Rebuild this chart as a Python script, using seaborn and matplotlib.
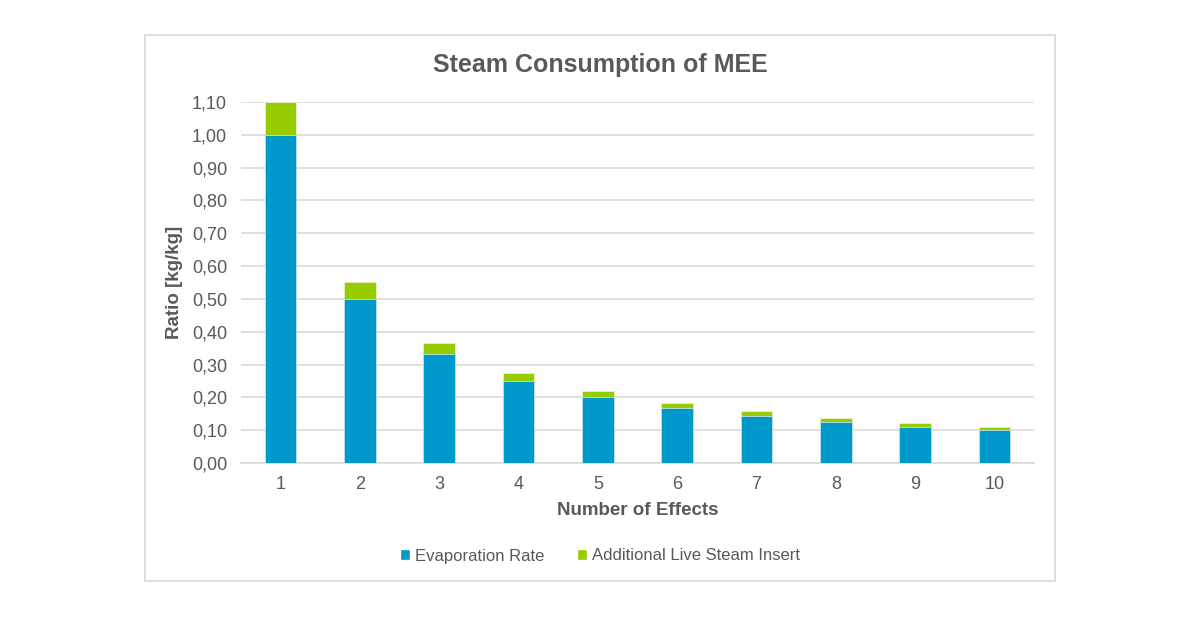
import numpy as np
import pandas as pd
import matplotlib
matplotlib.use("Agg")
import matplotlib.pyplot as plt
from matplotlib.patches import Patch, Rectangle
from matplotlib.ticker import FuncFormatter
import seaborn as sns

effects = ["1", "2", "3", "4", "5", "6", "7", "8", "9", "10"]
evaporation = [1.00, 0.50, 0.333, 0.25, 0.20, 0.167, 0.143, 0.125, 0.111, 0.10]
additional = [0.10, 0.05, 0.033, 0.025, 0.02, 0.017, 0.014, 0.0125, 0.011, 0.01]
y_ticks = [0.0, 0.1, 0.2, 0.3, 0.4, 0.5, 0.6, 0.7, 0.8, 0.9, 1.0, 1.1]

blue = "#0099CC"
green = "#99CC00"
txt = "#595959"
grid = "#D9D9D9"

sns.set_style("white")
plt.rcParams["font.family"] = ["Liberation Sans", "DejaVu Sans"]

df = pd.DataFrame({"effects": effects, "evap": evaporation, "extra": additional})
df["total"] = df["evap"] + df["extra"]

fig = plt.figure(figsize=(12, 6.18), dpi=100)
ax = fig.add_axes([0.2008, 0.2508, 0.6609, 0.5842])

# outer chart frame
fig.patches.append(Rectangle((145 / 1200, 1 - 581 / 618), 910 / 1200, 546 / 618,
                             transform=fig.transFigure, fill=False,
                             edgecolor=grid, linewidth=1.2, zorder=0))

sns.barplot(data=df, x="effects", y="total", color=green, width=0.4,
            saturation=1, ax=ax, edgecolor="#E6F2C8", linewidth=0.6, zorder=3)
sns.barplot(data=df, x="effects", y="evap", color=blue, width=0.4,
            saturation=1, ax=ax, edgecolor="#BFE3F0", linewidth=0.6, zorder=4)

ax.set_ylim(0, 1.1)
ax.set_yticks(y_ticks)
ax.yaxis.set_major_formatter(FuncFormatter(lambda v, p: f"{v:.2f}".replace(".", ",")))
ax.grid(axis="y", color=grid, linewidth=1.2, zorder=0)
ax.set_axisbelow(True)
for s in ["top", "right", "left"]:
    ax.spines[s].set_visible(False)
ax.spines["bottom"].set_color(grid)
ax.spines["bottom"].set_linewidth(1.2)
ax.tick_params(axis="both", length=0, labelsize=13, labelcolor=txt)
ax.tick_params(axis="x", pad=9)
ax.tick_params(axis="y", pad=10)

ax.set_xlabel("Number of Effects", fontsize=13.5, fontweight="bold", color=txt, labelpad=7)
ax.set_ylabel("Ratio [kg/kg]", fontsize=13.5, fontweight="bold", color=txt, labelpad=6)

fig.text(0.5, 1 - 65 / 618, "Steam Consumption of MEE", ha="center", va="center",
         fontsize=18, fontweight="bold", color=txt)

handles = [Patch(facecolor=blue, label="Evaporation Rate"),
           Patch(facecolor=green, label="Additional Live Steam Insert")]
fig.legend(handles=handles, loc="center", bbox_to_anchor=(0.5, 1 - 556 / 618),
           ncol=2, frameon=False, fontsize=12, labelcolor=txt,
           handlelength=0.6, handleheight=0.6, handletextpad=0.3, columnspacing=1.9)

fig.savefig("out.png", dpi=100)
